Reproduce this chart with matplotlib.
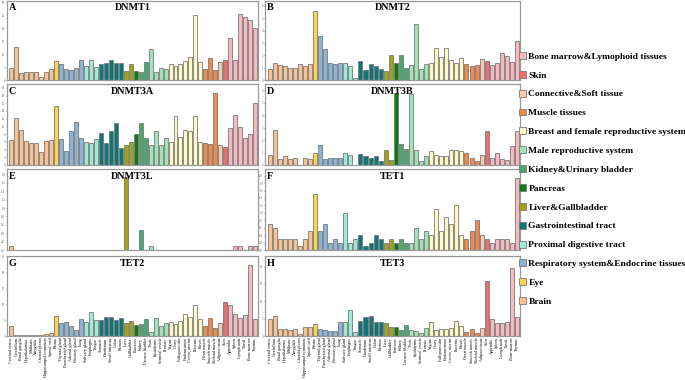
import numpy as np
import matplotlib
matplotlib.use("Agg")
import matplotlib.pyplot as plt
from matplotlib.patches import Patch

plt.rcParams['font.family'] = ['Liberation Serif', 'DejaVu Serif']

# tissues, grouped in the order of the figure
tissues = ["Cerebral cortex", "Cerebellum", "Basal ganglia", "Hypothalamus", "Midbrain",
           "Amygdala", "Choroid plexus", "Hippocampal formation", "Spinal cord",
           "Retina",
           "Thyroid gland", "Parathyroid gland", "Adrenal gland", "Pituitary gland", "Lung",
           "Salivary gland", "Esophagus", "Tongue",
           "Stomach", "Duodenum", "Small intestine", "Colon", "Rectum",
           "Liver", "Gallbladder",
           "Pancreas",
           "Kidney", "Urinary bladder",
           "Testis", "Epididymis", "Seminal vesicle", "Prostate",
           "Vagina", "Ovary", "Fallopian tube", "Endometrium", "Cervix, uterine", "Placenta", "Breast",
           "Heart muscle", "Smooth muscle", "Skeletal muscle",
           "Adipose tissue",
           "Skin",
           "Appendix", "Spleen", "Lymph node", "Tonsil", "Bone marrow", "Thymus"]

groups = (["Brain"] * 9 + ["Eye"] + ["Respiratory system&Endocrine tissues"] * 5
          + ["Proximal digestive tract"] * 3 + ["Gastrointestinal tract"] * 5
          + ["Liver&Gallbladder"] * 2 + ["Pancreas"] + ["Kidney&Urinary bladder"] * 2
          + ["Male reproductive system"] * 4 + ["Breast and female reproductive system"] * 7
          + ["Muscle tissues"] * 3 + ["Connective&Soft tissue"] + ["Skin"]
          + ["Bone marrow&Lymophoid tissues"] * 6)

legend_order = ["Bone marrow&Lymophoid tissues", "Skin", "Connective&Soft tissue",
                "Muscle tissues", "Breast and female reproductive system",
                "Male reproductive system", "Kidney&Urinary bladder", "Pancreas",
                "Liver&Gallbladder", "Gastrointestinal tract", "Proximal digestive tract",
                "Respiratory system&Endocrine tissues", "Eye", "Brain"]

group_colors = {
    "Bone marrow&Lymophoid tissues": "#f7b9bd",
    "Skin": "#ef6b72",
    "Connective&Soft tissue": "#f8c9ae",
    "Muscle tissues": "#f4874a",
    "Breast and female reproductive system": "#fdf8c4",
    "Male reproductive system": "#9fe3b7",
    "Kidney&Urinary bladder": "#4aa771",
    "Pancreas": "#0b7a12",
    "Liver&Gallbladder": "#a3a214",
    "Gastrointestinal tract": "#0f7677",
    "Proximal digestive tract": "#9eead8",
    "Respiratory system&Endocrine tissues": "#8db4d4",
    "Eye": "#fed34d",
    "Brain": "#f9c293",
}

dnmt1 = [4.5, 12.7, 2.8, 3.2, 3.0, 3.1, 1.3, 3.1, 4.3, 7.3, 6.2, 4.2, 3.9, 4.5, 7.6,
         5.4, 7.6, 4.9, 6.3, 6.4, 7.7, 6.7, 6.7, 3.6, 6.1, 3.6, 3.0, 6.9, 12.1, 3.1,
         4.5, 4.3, 6.2, 5.5, 6.3, 7.2, 8.8, 25.0, 6.9, 4.4, 8.5, 4.0, 6.8, 7.6, 16.4,
         7.9, 25.4, 24.4, 23.2, 20.0]
dnmt2 = [0.9, 1.4, 1.2, 1.1, 1.0, 1.0, 1.3, 1.1, 1.3, 5.6, 3.6, 2.5, 1.4, 1.3, 1.4,
         1.4, 1.1, 0.2, 1.5, 0.8, 1.3, 1.1, 0.9, 0.7, 2.0, 1.4, 2.0, 1.0, 1.2, 4.5,
         0.9, 1.3, 1.4, 2.6, 1.9, 2.6, 1.6, 1.4, 1.8, 1.3, 1.1, 1.2, 1.7, 1.5, 1.2,
         1.35, 2.2, 1.95, 1.45, 3.2]
dnmt3a = [6.6, 12.2, 9.2, 6.2, 5.8, 5.7, 3.3, 6.3, 6.4, 15.2, 6.7, 3.6, 8.8, 11.2, 7.1,
          6.0, 5.8, 6.7, 8.3, 5.6, 8.7, 10.9, 4.4, 5.1, 5.9, 8.1, 11.0, 7.1, 5.1, 8.8,
          5.2, 7.0, 6.0, 12.6, 7.3, 9.1, 8.8, 12.6, 6.0, 5.7, 5.4, 18.6, 5.3, 4.6, 9.5,
          13.0, 9.9, 6.9, 8.0, 16.0]
dnmt3b = [0.8, 2.8, 0.5, 0.7, 0.5, 0.6, 0.0, 0.6, 0.5, 1.0, 1.6, 0.5, 0.6, 0.6, 0.6,
          1.0, 0.8, 0.0, 0.9, 0.7, 0.6, 0.7, 0.3, 1.2, 0.4, 5.8, 1.7, 1.3, 5.7, 1.2,
          0.3, 0.7, 1.1, 0.8, 0.7, 0.7, 1.2, 1.2, 1.1, 1.0, 0.55, 0.3, 0.8, 2.7, 0.6,
          1.0, 0.5, 0.4, 1.5, 2.75]
dnmt3l = [0.1, 0, 0, 0, 0, 0, 0, 0, 0, 0, 0, 0, 0, 0, 0,
          0, 0, 0, 0, 0, 0, 0, 0, 1.75, 0, 0, 0.48, 0, 0.1, 0,
          0, 0, 0, 0, 0, 0, 0, 0, 0, 0, 0, 0, 0, 0, 0,
          0.1, 0.1, 0, 0.1, 0.1]
tet1 = [0.7, 0.6, 0.3, 0.3, 0.3, 0.3, 0.1, 0.3, 0.5, 1.5, 0.5, 0.7, 0.2, 0.3, 0.2,
        1.0, 0.2, 0.3, 0.4, 0.1, 0.2, 0.4, 0.3, 0.2, 0.3, 0.2, 0.3, 0.2, 0.2, 0.6,
        0.3, 0.5, 0.4, 1.1, 0.5, 0.9, 0.7, 1.2, 0.4, 0.3, 0.5, 0.8, 0.4, 0.3, 0.2,
        0.3, 0.3, 0.3, 0.2, 1.95]
tet2 = [3.0, 0.2, 0.3, 0.4, 0.4, 0.4, 0.3, 0.5, 0.9, 6.3, 4.1, 4.4, 3.0, 1.8, 5.3,
        4.3, 7.4, 4.9, 5.0, 5.8, 5.8, 4.9, 5.6, 4.0, 4.6, 3.4, 3.8, 5.2, 1.2, 5.6,
        3.1, 4.1, 4.3, 3.8, 4.6, 6.9, 6.0, 9.6, 5.2, 3.0, 5.5, 2.6, 4.0, 10.5, 9.8,
        6.9, 5.6, 6.7, 22.1, 5.3]
tet3 = [4.9, 5.7, 1.9, 1.9, 1.8, 1.9, 0.7, 2.5, 2.7, 3.4, 2.0, 1.8, 1.5, 1.5, 4.0,
        4.0, 7.3, 1.1, 4.2, 5.3, 5.8, 4.0, 4.0, 3.8, 2.5, 2.5, 1.6, 3.2, 1.6, 1.3,
        1.0, 2.4, 4.0, 1.7, 1.9, 1.9, 2.4, 4.3, 3.0, 1.1, 1.9, 1.0, 2.2, 15.7, 5.0,
        3.6, 3.6, 4.0, 19.6, 5.5]

panels = [
    ("A", "DNMT1", dnmt1, np.arange(0, 31, 5), 30.5),
    ("B", "DNMT2", dnmt2, np.arange(0, 7, 1), 6.4),
    ("C", "DNMT3A", dnmt3a, np.arange(0, 21, 2), 21),
    ("D", "DNMT3B", dnmt3b, np.arange(0, 7, 1), 6.5),
    ("E", "DNMT3L", dnmt3l, np.round(np.arange(0, 1.81, 0.2), 1), 1.93),
    ("F", "TET1", tet1, np.round(np.arange(0, 2.01, 0.2), 1), 2.18),
    ("G", "TET2", tet2, np.arange(0, 26, 5), 25),
    ("H", "TET3", tet3, np.arange(0, 21, 5), 22.9),
]

W, H = 685, 380
fig = plt.figure(figsize=(W / 100, H / 100), dpi=100)

cols = [(7, 258), (265, 520)]
rows = [(1, 80), (84, 165), (169, 250), (256, 336)]
colors = [group_colors[g] for g in groups]
x = np.arange(len(tissues))

for i, (letter, name, vals, yt, ytop) in enumerate(panels):
    c0, c1 = cols[i % 2]
    r0, r1 = rows[i // 2]
    ax = fig.add_axes([c0 / W, 1 - r1 / H, (c1 - c0) / W, (r1 - r0) / H])
    ax.bar(x, vals, width=0.8, color=colors, edgecolor="#7a7a7a", linewidth=0.6)
    ax.set_xlim(-0.9, 49.6)
    ax.set_ylim(0, ytop)
    ax.set_yticks(yt)
    ax.tick_params(axis="y", labelsize=2.2, length=1.0, width=0.4, pad=0.4, colors="#555555")
    if i >= 6:
        ax.set_xticks(x)
        ax.set_xticklabels(tissues, rotation=90, fontsize=3)
        ax.tick_params(axis="x", length=0, pad=1)
    else:
        ax.set_xticks([])
    for s in ax.spines.values():
        s.set_color("#999999")
        s.set_linewidth(0.9)
    ax.text(0.5, 1 - 7 / (r1 - r0), name, transform=ax.transAxes, ha="center",
            va="center", fontsize=7.3, fontweight="bold")
    ax.text(0.006, 1 - 7 / (r1 - r0), letter, transform=ax.transAxes, ha="left",
            va="center", fontsize=7.3, fontweight="bold")

handles = [Patch(facecolor=group_colors[g], edgecolor="#7a7a7a", linewidth=0.6)
           for g in legend_order]
fig.legend(handles, legend_order, loc="upper left", bbox_to_anchor=(519 / W, 1 - 52 / H),
           frameon=False, prop={"weight": "bold", "size": 6.8}, handlelength=0.75,
           handleheight=0.75, handletextpad=0.25, labelspacing=1.07, borderaxespad=0,
           borderpad=0)

fig.savefig("out.png", dpi=100)
